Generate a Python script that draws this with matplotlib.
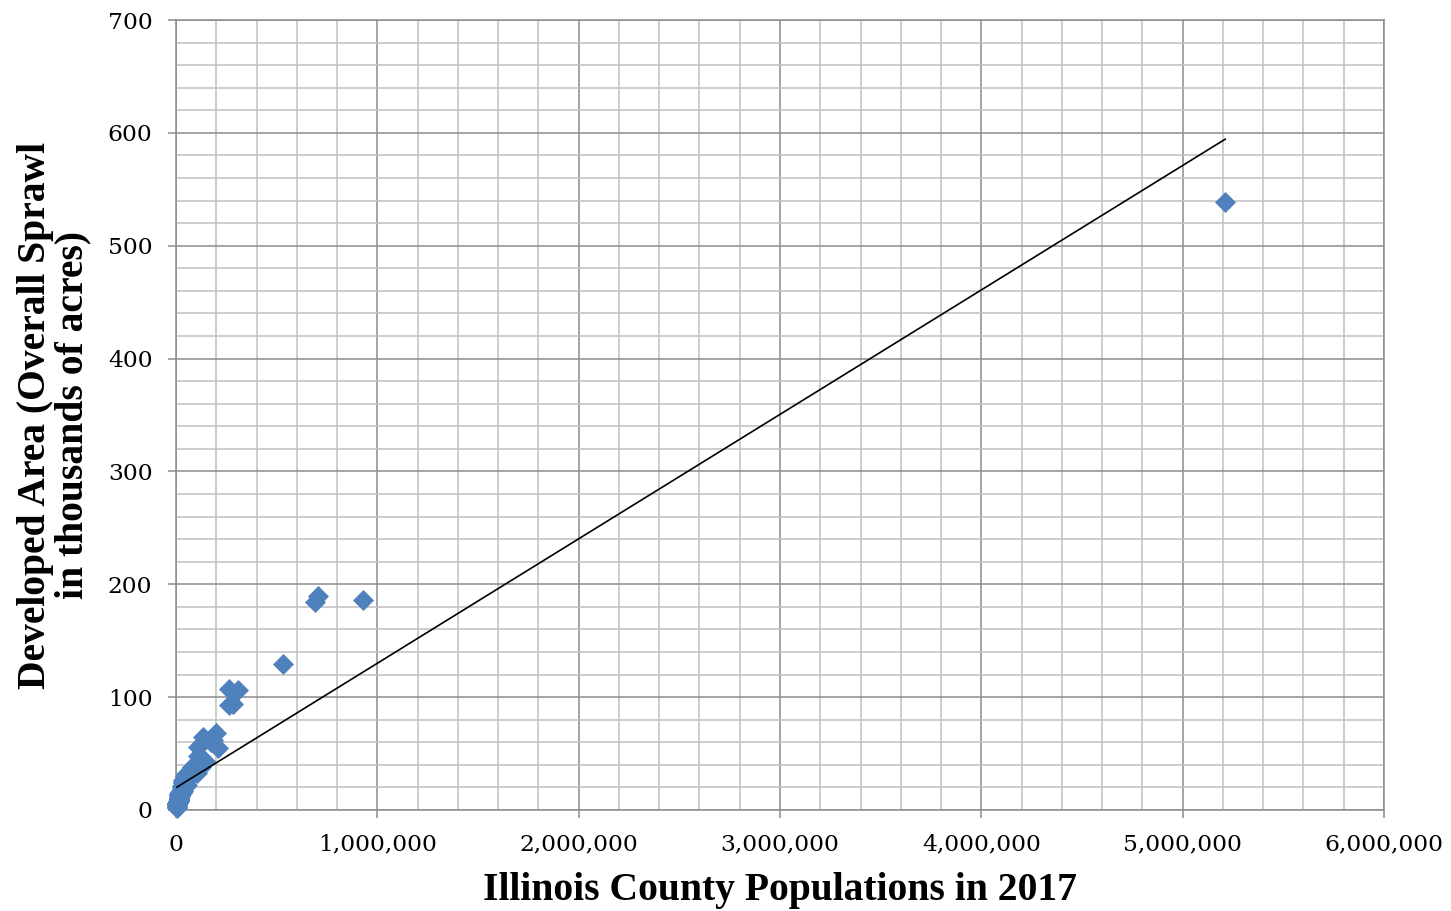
import matplotlib
matplotlib.use('Agg')
import matplotlib.pyplot as plt
import numpy as np
from matplotlib.ticker import MultipleLocator, FuncFormatter

# Illinois counties, 2017 population vs developed area (thousand acres)
populations = [5211263, 930128, 703619, 690743, 532403, 307004, 284081, 265670, 262479,
               209689, 196452, 182985, 173219, 144784, 133852, 126084, 110401, 110008,
               106550, 104200, 78111, 67299, 66427, 58551, 56396, 53606, 51736, 51328,
               50112, 50509, 49464, 45719, 45433, 39127, 38817, 38169, 37729, 37628,
               36324, 35066, 34403, 34277, 34235, 34174, 33381, 32884, 32141, 30390,
               29003, 28828, 28334, 23985, 22066, 21834, 21832, 21488, 21340, 19714,
               18933, 18180, 17539, 17138, 16988, 16804, 16487, 16397, 16119, 15987,
               15881, 15823, 15754, 15547, 14703, 14387, 14251, 14009, 14004, 13735,
               13398, 13329, 13068, 12636, 12612, 12341, 11689, 11573, 10844, 9570,
               8229, 7021, 6698, 6578, 6507, 6417, 5711, 5581, 5412, 5178, 5025,
               4874, 4248, 4009]
developed = [539, 186, 190, 184, 129, 106, 94, 107, 93,
             55, 68, 62, 60, 43, 65, 38, 56, 48,
             41, 33, 38, 35, 32, 30, 33, 22, 28, 31,
             29, 26, 30, 30, 25, 23, 21, 25, 24, 20,
             27, 25, 22, 19, 17, 20, 24, 21, 20, 15,
             18, 19, 21, 15, 12, 14, 16, 15, 14, 12,
             13, 14, 13, 11, 11, 10, 14, 10, 11, 10,
             10, 12, 13, 10, 9, 10, 9, 11, 10, 9,
             10, 10, 9, 8, 8, 7, 8, 7, 7, 7,
             6, 5, 5, 4, 5, 6, 4, 5, 4, 5, 3,
             3, 3, 2]

x_ticks = [0, 1000000, 2000000, 3000000, 4000000, 5000000, 6000000]
y_ticks = [0, 100, 200, 300, 400, 500, 600, 700]

pop = np.array(populations, dtype=float)
area = np.array(developed, dtype=float)

plt.rcParams['font.family'] = ['Liberation Serif', 'DejaVu Serif']

fig = plt.figure(figsize=(14.51, 9.11), dpi=100)
ax = fig.add_axes([176 / 1451, 1 - 810 / 911, (1384 - 176) / 1451, (810 - 20) / 911])

major_c = '#8c8c8c'
minor_c = '#c0c0c0'

ax.scatter(pop, area, marker='D', s=115, color='#4f81bd', linewidths=0, zorder=3,
           clip_on=False)

# linear trendline
slope, intercept = np.polyfit(pop, area, 1)
xs = np.array([pop.min(), pop.max()])
ax.plot(xs, slope * xs + intercept, color='black', lw=1.2, zorder=4)

ax.set_xlim(x_ticks[0], x_ticks[-1])
ax.set_ylim(y_ticks[0], y_ticks[-1])
ax.set_xticks(x_ticks)
ax.set_yticks(y_ticks)
ax.xaxis.set_minor_locator(MultipleLocator(200000))
ax.yaxis.set_minor_locator(MultipleLocator(20))
ax.xaxis.set_major_formatter(FuncFormatter(lambda v, p: '{:,.0f}'.format(v)))

ax.grid(which='major', color=major_c, lw=1.1, zorder=1)
ax.grid(which='minor', color=minor_c, lw=1.1, zorder=0)
ax.set_axisbelow(True)
for s in ax.spines.values():
    s.set_color(major_c)
    s.set_linewidth(1.1)

ax.tick_params(which='major', direction='out', length=6, width=1.1, color=major_c,
               labelsize=16.8, pad=11)
ax.tick_params(which='minor', length=0)
for lab in ax.get_xticklabels() + ax.get_yticklabels():
    lab.set_family('DejaVu Serif')

ax.set_xlabel('Illinois County Populations in 2017', fontsize=28.5, fontweight='bold',
              labelpad=12)
ax.set_ylabel('Developed Area (Overall Sprawl\nin thousands of acres)', fontsize=28.5,
              fontweight='bold', labelpad=12, linespacing=1.0)

fig.savefig('out.png', dpi=100)
